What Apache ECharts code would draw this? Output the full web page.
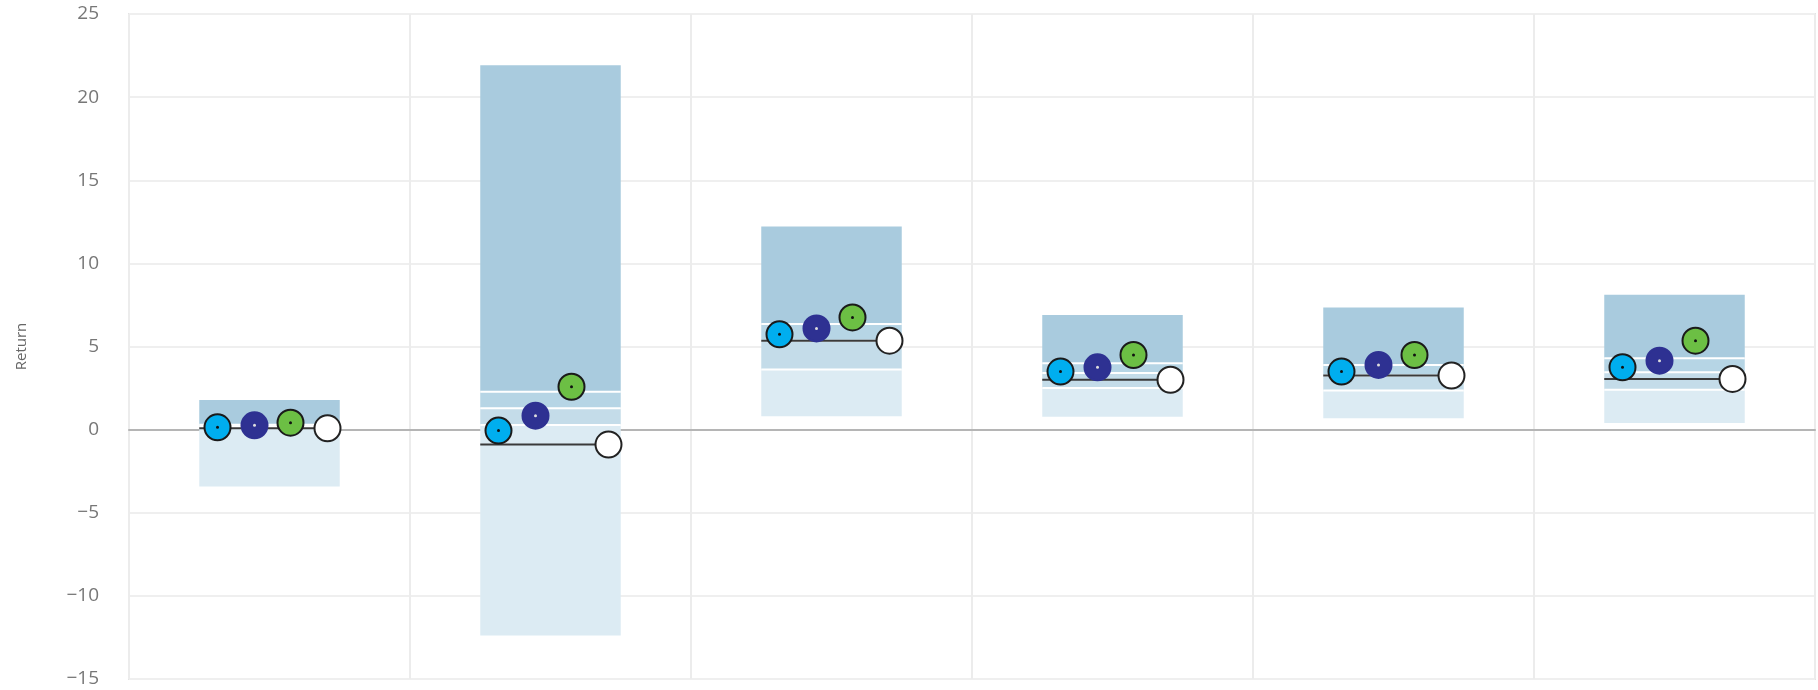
<!DOCTYPE html>
<html>
<head>
<meta charset="utf-8">
<script src="https://cdn.jsdelivr.net/npm/echarts@6/dist/echarts.min.js"></script>
<style>
  html, body { margin: 0; padding: 0; background: #fff; }
  #chart { width: 1818px; height: 690px; }
</style>
</head>
<body>
<div id="chart"></div>
<script>
const categories = ['1', '2', '3', '4', '5', '6'];

// percentile range of each bar
const p5  = [-3.42, -12.38, 0.80, 0.78, 0.68, 0.40];
const p25 = [0.10, 0.28, 3.62, 2.50, 2.35, 2.40];
const p50 = [0.20, 1.28, 5.35, 3.40, 3.25, 3.45];
const p75 = [0.30, 2.28, 6.35, 4.00, 3.89, 4.29];
const p95 = [1.78, 21.92, 12.22, 6.89, 7.35, 8.11];

// dots
const cyanValues  = [0.14, -0.06, 5.73, 3.49, 3.49, 3.75];
const navyValues  = [0.26, 0.84, 6.09, 3.75, 3.89, 4.15];
const greenValues = [0.42, 2.58, 6.75, 4.49, 4.49, 5.35];
const benchValues = [0.08, -0.90, 5.35, 3.00, 3.25, 3.05];

const yTicks = { min: -15, max: 25, interval: 5 };

const rangeData = categories.map((c, i) => [i, p5[i], p25[i], p50[i], p75[i], p95[i], benchValues[i]]);

const SEG_COLORS = ['#dcebf3', '#c4dce9', '#b6d5e5', '#a9cbde'];

function renderRange(params, api) {
  const i = api.value(0);
  const vals = [api.value(1), api.value(2), api.value(3), api.value(4), api.value(5)];
  const width = api.size([1, 0])[0] * 0.5;
  const x = api.coord([i, 0])[0] - width / 2;
  const ys = vals.map(v => api.coord([i, v])[1]);
  const children = [];
  for (let k = 0; k < 4; k++) {
    children.push({
      type: 'rect',
      shape: { x: x, y: ys[k + 1], width: width, height: ys[k] - ys[k + 1] },
      style: { fill: SEG_COLORS[k] }
    });
  }
  for (let k = 1; k < 4; k++) {
    children.push({
      type: 'line',
      shape: { x1: x, y1: ys[k], x2: x + width, y2: ys[k] },
      style: { stroke: '#fff', lineWidth: 2 }
    });
  }
  const by = api.coord([i, api.value(6)])[1];
  children.push({
    type: 'line',
    shape: { x1: x, y1: by, x2: x + width, y2: by },
    style: { stroke: '#3a3a3a', lineWidth: 2 }
  });
  return { type: 'group', children: children };
}

function dotSeries(name, values, color, border, offset, centerColor) {
  const list = [{
    name: name,
    type: 'scatter',
    data: values,
    symbol: 'circle',
    symbolSize: 26,
    symbolOffset: [offset, 0],
    z: 5,
    itemStyle: { color: color, borderColor: border, borderWidth: 2, opacity: 1 }
  }];
  if (centerColor) {
    list.push({
      type: 'scatter',
      data: values,
      symbol: 'circle',
      symbolSize: 3,
      symbolOffset: [offset, 0],
      z: 6,
      silent: true,
      itemStyle: { color: centerColor, opacity: 1 }
    });
  }
  return list;
}

const chart = echarts.init(document.getElementById('chart'));
chart.setOption({
  animation: false,
  grid: {
    left: 129, right: 3, top: 14, bottom: 11,
    show: true, borderColor: '#cfcfcf', borderWidth: 1.5
  },
  xAxis: {
    type: 'category',
    data: categories,
    axisLine: { onZero: true, lineStyle: { color: '#b5b5b5', width: 2 } },
    axisTick: { show: false },
    axisLabel: { show: false },
    splitLine: { show: true, lineStyle: { color: '#ececec', width: 2 } }
  },
  yAxis: {
    type: 'value',
    min: yTicks.min,
    max: yTicks.max,
    interval: yTicks.interval,
    name: 'Return',
    nameLocation: 'middle',
    nameGap: 100,
    nameTextStyle: { color: '#666', fontSize: 15, fontFamily: 'Open Sans' },
    axisLine: { show: false },
    axisTick: { show: false },
    axisLabel: {
      color: '#777', fontSize: 19, margin: 30, fontFamily: 'Open Sans',
      formatter: v => String(v).replace('-', '\u2212')
    },
    splitLine: { lineStyle: { color: '#efefef', width: 2 } }
  },
  series: [
    {
      type: 'custom',
      renderItem: renderRange,
      data: rangeData,
      encode: { x: 0, y: [1, 5] },
      z: 2
    },
    ...dotSeries('Cyan', cyanValues, '#00aeef', '#1a1a1a', -52, '#111'),
    ...dotSeries('Navy', navyValues, '#2e3192', '#2e3192', -15, '#ddd'),
    ...dotSeries('Green', greenValues, '#6cbf44', '#1a1a1a', 21, '#111'),
    ...dotSeries('Benchmark', benchValues, '#ffffff', '#222', 58, null)
  ]
});
</script>
</body>
</html>
